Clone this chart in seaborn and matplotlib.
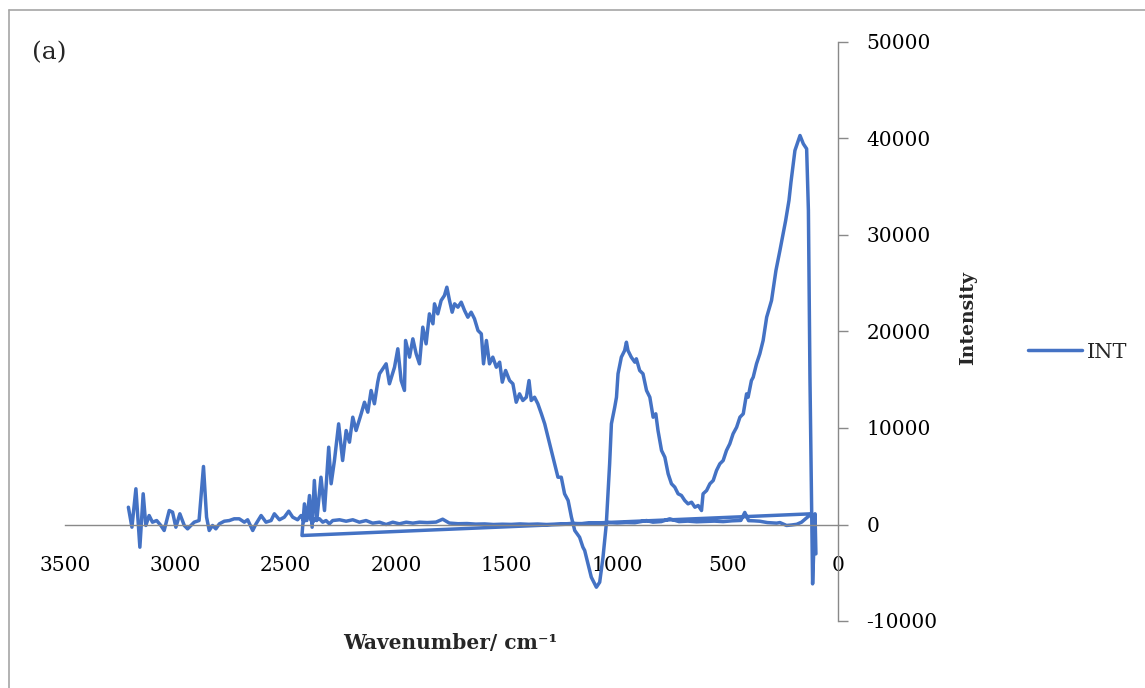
import numpy as np
import pandas as pd
import matplotlib
matplotlib.use('Agg')
import matplotlib.pyplot as plt
from matplotlib.lines import Line2D
import seaborn as sns

# first scan: 3200 -> 100 cm-1, mostly near the baseline
scan_a_wn = [3213, 3197, 3179, 3161, 3146, 3134, 3119, 3104, 3085, 3066, 3051, 3028, 3013, 2998,
             2980, 2960, 2945, 2930, 2915, 2893, 2873, 2859, 2847, 2832, 2817, 2801, 2779, 2756,
             2734, 2711, 2688, 2673, 2650, 2635, 2612, 2590, 2567, 2552, 2529, 2507, 2487, 2469,
             2447, 2431, 2418, 2400, 2380, 2365, 2348, 2333, 2318, 2303, 2288, 2257, 2227, 2197,
             2167, 2137, 2107, 2076, 2046, 2016, 1986, 1955, 1925, 1895, 1860, 1820, 1790, 1760,
             1720, 1680, 1640, 1600, 1560, 1520, 1480, 1440, 1400, 1360, 1320, 1280, 1240, 1200,
             1160, 1120, 1080, 1040, 1000, 960, 920, 867, 838, 800, 762, 720, 680, 640, 600, 560,
             520, 480, 440, 422, 405, 380, 354, 320, 278, 263, 233, 210, 187, 165, 142, 119]
scan_a_int = [1790, -280, 3700, -2350, 3180, -100, 930, 240, 410, -100, -620, 1450, 1280, -280,
              1110, -100, -450, -100, 240, 410, 6010, 760, -620, -100, -450, 70, 340, 410,
              590, 590, 240, 490, -620, 70, 930, 240, 410, 1110, 490, 760, 1380, 760,
              490, 930, 300, 1100, 200, 600, 590, 240, 410, 70, 410, 490, 340, 490,
              240, 410, 140, 240, 0, 240, 70, 240, 140, 240, 200, 250, 550, 150,
              80, 100, 40, 60, 0, 30, 10, 60, 20, 50, 0, 40, 60, 120,
              80, 150, 120, 200, 150, 200, 180, 410, 240, 300, 590, 300, 350, 280, 320, 350,
              300, 380, 420, 1250, 400, 380, 340, 200, 140, 200, -100, -50, 20, 240, 690, 1110]

# second scan: 2430 -> 100 cm-1, the main Raman envelope
scan_b_wn = [2427, 2416, 2405, 2393, 2381, 2371, 2360, 2341, 2325, 2306, 2295, 2280, 2261, 2243,
             2227, 2212, 2197, 2182, 2159, 2144, 2129, 2114, 2099, 2084, 2076, 2046, 2031, 2008,
             1993, 1978, 1963, 1958, 1940, 1925, 1910, 1895, 1880, 1865, 1850, 1834, 1827, 1812,
             1797, 1782, 1771, 1759, 1747, 1736, 1721, 1706, 1691, 1676, 1661, 1646, 1630, 1615,
             1605, 1592, 1578, 1563, 1547, 1532, 1520, 1505, 1487, 1472, 1457, 1442, 1427, 1411,
             1399, 1389, 1374, 1359, 1343, 1328, 1313, 1298, 1283, 1268, 1253, 1238, 1222, 1207,
             1192, 1170, 1155, 1147, 1132, 1117, 1094, 1079, 1064, 1049, 1034, 1026, 1011, 1003,
             996, 981, 966, 958, 951, 936, 920, 913, 898, 883, 867, 852, 837, 825,
             815, 799, 784, 769, 754, 739, 724, 709, 694, 679, 663, 648, 633, 618,
             611, 595, 580, 565, 550, 535, 520, 505, 490, 475, 459, 444, 429, 414,
             407, 392, 384, 369, 354, 339, 323, 301, 281, 263, 237, 222, 213, 195,
             172, 157, 142, 134, 127, 119, 115, 104, 100]
scan_b_int = [-1140, 2140, 410, 3000, -280, 4560, 410, 4900, 1450, 8010, 4220, 6630, 10430, 6630,
              9740, 8530, 11120, 9740, 11470, 12670, 11640, 13890, 12510, 14750, 15620, 16650, 14580, 16300,
              18210, 14920, 13890, 19070, 17340, 19240, 17690, 16650, 20450, 18720, 21830, 20800, 22870, 21830,
              23210, 23730, 24590, 23210, 22000, 22870, 22520, 23040, 22180, 21480, 22000, 21320, 20100, 19760,
              16650, 19070, 16650, 17340, 16300, 16820, 14750, 15960, 14920, 14580, 12670, 13540, 12850, 13190,
              14920, 12850, 13190, 12510, 11470, 10430, 9050, 7670, 6290, 4900, 4900, 3180, 2490, 760,
              -620, -1320, -2350, -2690, -4070, -5460, -6500, -5980, -3390, 70, 6290, 10430, 12150, 13190,
              15620, 17340, 18030, 18890, 18030, 17340, 16820, 17170, 15960, 15620, 13890, 13190, 11120, 11470,
              9740, 7670, 6970, 5250, 4220, 3870, 3180, 3010, 2490, 2140, 2310, 1790, 1970, 1450,
              3180, 3520, 4220, 4560, 5600, 6290, 6630, 7670, 8360, 9400, 10080, 11120, 11470, 13540,
              13190, 14920, 15260, 16650, 17690, 19070, 21480, 23210, 26320, 28390, 31500, 33580, 35470, 38760,
              40310, 39450, 38930, 32540, 15260, 1110, -6150, 1110, -3040]

x_ticks = [3500, 3000, 2500, 2000, 1500, 1000, 500, 0]
y_ticks = [-10000, 0, 10000, 20000, 30000, 40000, 50000]

df = pd.DataFrame({
    'wn': scan_a_wn + scan_b_wn,
    'INT': scan_a_int + scan_b_int,
})

sns.set_style('white')
plt.rcParams['font.family'] = ['DejaVu Serif']
plt.rcParams['axes.unicode_minus'] = False

fig = plt.figure(figsize=(11.45, 6.88), dpi=100)
ax = fig.add_axes([65 / 1145, (688 - 621) / 688, (838 - 65) / 1145, (621 - 42) / 688])

line_col = '#4472C4'
axis_col = '#898989'

sns.lineplot(data=df, x='wn', y='INT', sort=False, estimator=None, ax=ax,
             color=line_col, linewidth=2.5, label='INT')

ax.set_xlim(3500, 0)
ax.set_ylim(-10000, 50000)
ax.set_xticks(x_ticks)
ax.set_yticks(y_ticks)

for s in ['top', 'left']:
    ax.spines[s].set_visible(False)
ax.spines['bottom'].set_position(('data', 0))
for s in ['bottom', 'right']:
    ax.spines[s].set_color(axis_col)
    ax.spines[s].set_linewidth(1.0)

ax.yaxis.tick_right()
ax.tick_params(axis='x', direction='out', length=6, width=1, color=axis_col,
               pad=17, labelsize=14.5, labelcolor='black')
ax.tick_params(axis='y', direction='out', length=7.5, width=1, color=axis_col,
               pad=13, labelsize=14.5, labelcolor='black')

ax.set_xlabel('')
ax.set_ylabel('')
fig.text(450 / 1145, 1 - 643 / 688, 'Wavenumber/ cm\u207b\u00b9', ha='center', va='center',
         fontsize=14.5, fontweight='bold')
fig.text(968 / 1145, 1 - 318 / 688, 'Intensity', ha='center', va='center', rotation=90,
         fontsize=13.5, fontweight='bold')
fig.text(32 / 1145, 1 - 53 / 688, '(a)', ha='left', va='center', fontsize=18)

ax.legend(loc='center left', bbox_to_anchor=(1028 / 1145, 1 - 352 / 688),
          bbox_transform=fig.transFigure, frameon=False, fontsize=15,
          handlelength=2.6, handletextpad=0.25, borderpad=0, borderaxespad=0)

# outer chart frame
fx, fy = 9 / 1145, 1 - 10 / 688
fig.add_artist(Line2D([fx, fx], [0, fy], color='#a6a6a6', lw=1.2))
fig.add_artist(Line2D([fx, 1], [fy, fy], color='#a6a6a6', lw=1.2))

fig.savefig('out.png', dpi=100)
